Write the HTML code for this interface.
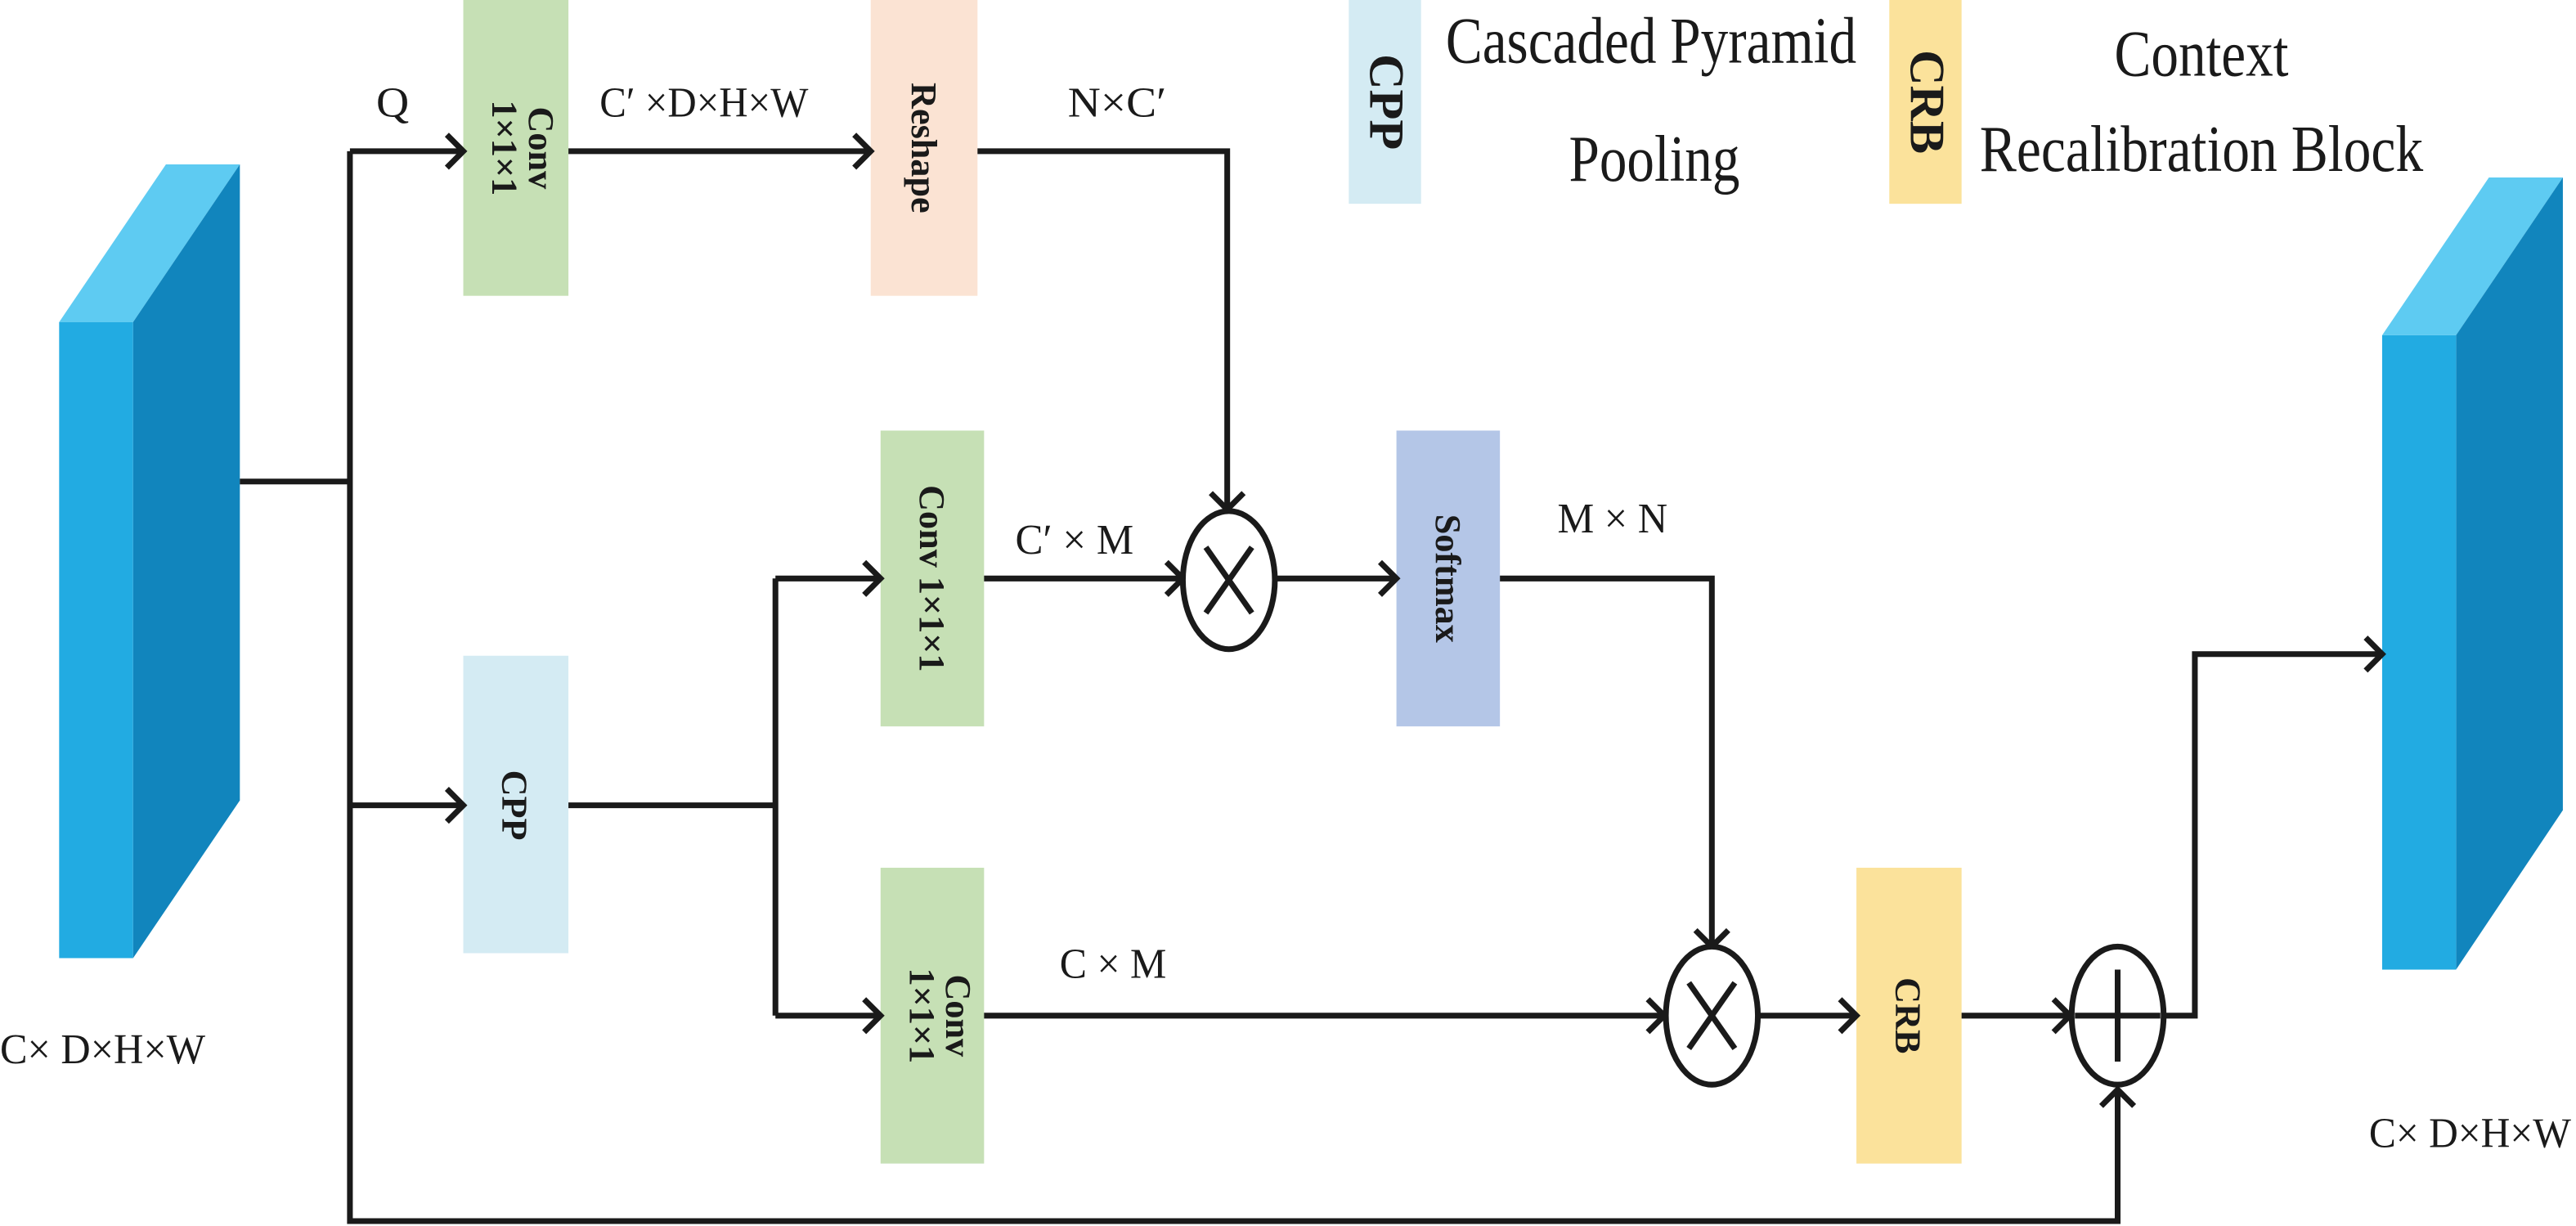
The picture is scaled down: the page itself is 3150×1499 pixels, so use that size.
<!DOCTYPE html>
<html><head><meta charset="utf-8"><style>
html,body{margin:0;padding:0;background:#fff;}
svg{display:block;}
text{font-family:"Liberation Serif",serif;fill:#1a1a1a;}
.b{font-weight:bold;font-size:22px;}
.l{font-size:26px;}
</style></head><body>
<svg width="3150" height="1499" viewBox="0 0 1568 746" preserveAspectRatio="none" xmlns="http://www.w3.org/2000/svg">
<defs>
<marker id="a" markerUnits="userSpaceOnUse" markerWidth="30" markerHeight="30" refX="22" refY="12" orient="auto">
<path d="M12,2 L22,12 L12,22" fill="none" stroke="#1a1a1a" stroke-width="3.5"/>
</marker>
</defs>
<!-- left cube -->
<polygon points="36,196 81,196 146,100 101,100" fill="#5ecbf2"/>
<polygon points="81,196 146,100 146,487 81,583" fill="#1185bd"/>
<rect x="36" y="196" width="45" height="387" fill="#22abe2"/>
<!-- right cube -->
<polygon points="1450,204 1495,204 1560,108 1515,108" fill="#5ecbf2"/>
<polygon points="1495,204 1560,108 1560,493 1495,590" fill="#1185bd"/>
<rect x="1450" y="204" width="45" height="386" fill="#22abe2"/>
<!-- boxes -->
<rect x="282" y="0" width="64" height="180" fill="#c6e0b5"/>
<rect x="530" y="0" width="65" height="180" fill="#fbe3d3"/>
<rect x="536" y="262" width="63" height="180" fill="#c6e0b5"/>
<rect x="282" y="399" width="64" height="181" fill="#d4ebf3"/>
<rect x="850" y="262" width="63" height="180" fill="#b4c6e7"/>
<rect x="536" y="528" width="63" height="180" fill="#c6e0b5"/>
<rect x="1130" y="528" width="64" height="180" fill="#fbe29b"/>
<rect x="821" y="0" width="44" height="124" fill="#d4ebf3"/>
<rect x="1150" y="0" width="44" height="124" fill="#fbe29b"/>
<!-- lines -->
<g fill="none" stroke="#1a1a1a" stroke-width="3.5">
<polyline points="146,293 213,293"/>
<polyline points="213,92 213,743 1289,743 1289,663" marker-end="url(#a)"/>
<polyline points="213,92 282,92" marker-end="url(#a)"/>
<polyline points="346,92 530,92" marker-end="url(#a)"/>
<polyline points="595,92 747,92 747,310" marker-end="url(#a)"/>
<polyline points="213,490 282,490" marker-end="url(#a)"/>
<polyline points="346,490 472,490"/>
<polyline points="472,352 472,618"/>
<polyline points="472,352 536,352" marker-end="url(#a)"/>
<polyline points="472,618 536,618" marker-end="url(#a)"/>
<polyline points="599,352 720,352" marker-end="url(#a)"/>
<polyline points="777,352 850,352" marker-end="url(#a)"/>
<polyline points="913,352 1042,352 1042,576" marker-end="url(#a)"/>
<polyline points="599,618 1013,618" marker-end="url(#a)"/>
<polyline points="1071,618 1130,618" marker-end="url(#a)"/>
<polyline points="1194,618 1260,618" marker-end="url(#a)"/>
<polyline points="1318,618 1336,618 1336,398 1450,398" marker-end="url(#a)"/>
<ellipse cx="748" cy="353" rx="28" ry="42" fill="#fff"/>
<line x1="734" y1="333" x2="762" y2="373"/><line x1="762" y1="333" x2="734" y2="373"/>
<ellipse cx="1042" cy="618" rx="28" ry="42" fill="#fff"/>
<line x1="1028" y1="598" x2="1056" y2="638"/><line x1="1056" y1="598" x2="1028" y2="638"/>
<ellipse cx="1289" cy="618" rx="28" ry="42" fill="#fff"/>
<line x1="1289" y1="590" x2="1289" y2="646"/><line x1="1263" y1="618" x2="1315" y2="618"/>
</g>
<!-- vertical box text -->
<text class="b" transform="translate(322,90) rotate(90)" text-anchor="middle" dy="0">Conv</text>
<text class="b" transform="translate(300,90) rotate(90)" text-anchor="middle">1×1×1</text>
<text class="b" transform="translate(555,90) rotate(90)" text-anchor="middle">Reshape</text>
<text class="b" transform="translate(560,352) rotate(90)" text-anchor="middle">Conv 1×1×1</text>
<text class="b" transform="translate(306,490) rotate(90)" text-anchor="middle">CPP</text>
<text class="b" transform="translate(874,352) rotate(90)" text-anchor="middle">Softmax</text>
<text class="b" transform="translate(576,618) rotate(90)" text-anchor="middle">Conv</text>
<text class="b" transform="translate(554,618) rotate(90)" text-anchor="middle">1×1×1</text>
<text class="b" transform="translate(1154,618) rotate(90)" text-anchor="middle">CRB</text>
<text class="b" style="font-size:30px" transform="translate(834,62) rotate(90)" text-anchor="middle">CPP</text>
<text class="b" style="font-size:30px" transform="translate(1163,62) rotate(90)" text-anchor="middle">CRB</text>
<!-- labels -->
<text class="l" x="229" y="71" textLength="20" lengthAdjust="spacingAndGlyphs">Q</text>
<text class="l" x="365" y="71" textLength="127" lengthAdjust="spacingAndGlyphs">C′ ×D×H×W</text>
<text class="l" x="650" y="71" textLength="60" lengthAdjust="spacingAndGlyphs">N×C′</text>
<text class="l" x="618" y="337" textLength="72" lengthAdjust="spacingAndGlyphs">C′ × M</text>
<text class="l" x="948" y="324" textLength="67" lengthAdjust="spacingAndGlyphs">M × N</text>
<text class="l" x="645" y="595" textLength="65" lengthAdjust="spacingAndGlyphs">C × M</text>
<text class="l" x="0" y="647" textLength="125" lengthAdjust="spacingAndGlyphs">C× D×H×W</text>
<text class="l" x="1442" y="698" textLength="123" lengthAdjust="spacingAndGlyphs">C× D×H×W</text>
<text style="font-size:40px" x="880" y="38" textLength="250" lengthAdjust="spacingAndGlyphs">Cascaded Pyramid</text>
<text style="font-size:40px" x="955" y="110" textLength="104" lengthAdjust="spacingAndGlyphs">Pooling</text>
<text style="font-size:40px" x="1287" y="46" textLength="106" lengthAdjust="spacingAndGlyphs">Context</text>
<text style="font-size:40px" x="1205" y="104" textLength="270" lengthAdjust="spacingAndGlyphs">Recalibration Block</text>
</svg>
</body></html>
